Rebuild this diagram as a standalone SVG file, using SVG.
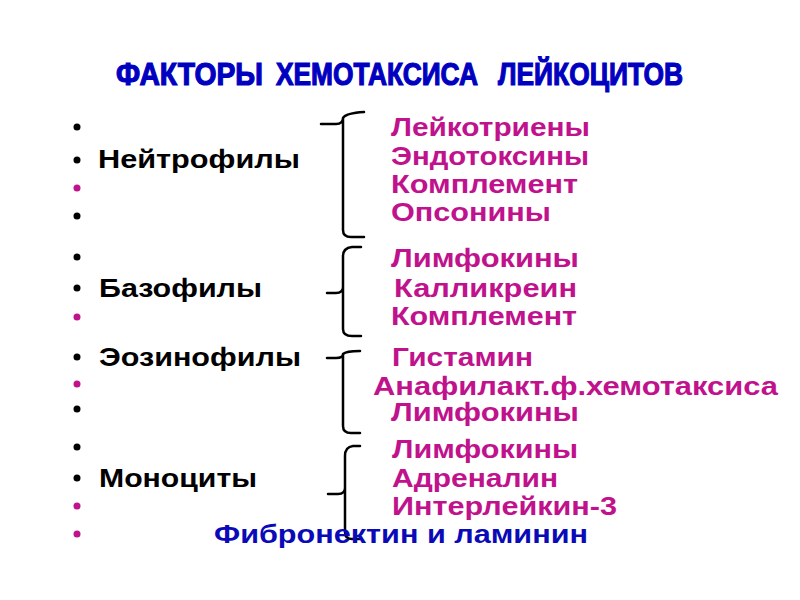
<svg xmlns="http://www.w3.org/2000/svg" width="800" height="600" viewBox="0 0 800 600">
<style>
.t{font-family:"Liberation Sans",Arial,sans-serif;font-weight:bold;font-size:25.5px}
.k{fill:#000}
.m{fill:#c0128c}
.b{fill:#0a0ab8}
.ttl{font-family:"Liberation Sans",Arial,sans-serif;font-weight:bold;font-size:32px;fill:#0000c0;stroke:#0000c0;stroke-width:1.2}
.br{fill:none;stroke:#000;stroke-width:2.5;stroke-linecap:round;stroke-linejoin:round}
</style>
<rect width="800" height="600" fill="#fff"/>
<g id="title">
<text class="ttl" transform="scale(0.8,1)" x="145" y="85" textLength="183.75" lengthAdjust="spacingAndGlyphs">ФАКТОРЫ</text>
<text class="ttl" transform="scale(0.8,1)" x="345" y="85" textLength="252.5" lengthAdjust="spacingAndGlyphs">ХЕМОТАКСИСА</text>
<text class="ttl" transform="scale(0.8,1)" x="622.5" y="85" textLength="231.25" lengthAdjust="spacingAndGlyphs">ЛЕЙКОЦИТОВ</text>
</g>
<g id="bullets">
<circle cx="77" cy="127" r="3.5" class="k"/>
<circle cx="77" cy="160" r="3.5" class="k"/>
<circle cx="77" cy="188" r="3.5" class="m"/>
<circle cx="77" cy="216" r="3.5" class="k"/>
<circle cx="77" cy="257" r="3.5" class="k"/>
<circle cx="77" cy="288" r="3.5" class="k"/>
<circle cx="77" cy="317" r="3.5" class="m"/>
<circle cx="77" cy="357" r="3.5" class="k"/>
<circle cx="77" cy="384" r="3.5" class="m"/>
<circle cx="77" cy="409" r="3.5" class="k"/>
<circle cx="77" cy="447" r="3.5" class="k"/>
<circle cx="77" cy="478" r="3.5" class="k"/>
<circle cx="77" cy="506" r="3.5" class="m"/>
<circle cx="77" cy="534" r="3.5" class="m"/>
</g>
<g id="neutrophils">
<text class="t k" x="98" y="168" textLength="202" lengthAdjust="spacingAndGlyphs">Нейтрофилы</text>
<text class="t m" x="391" y="136" textLength="199" lengthAdjust="spacingAndGlyphs">Лейкотриены</text>
<text class="t m" x="391" y="165" textLength="198" lengthAdjust="spacingAndGlyphs">Эндотоксины</text>
<text class="t m" x="391" y="193" textLength="187" lengthAdjust="spacingAndGlyphs">Комплемент</text>
<text class="t m" x="391" y="221" textLength="160" lengthAdjust="spacingAndGlyphs">Опсонины</text>
</g>
<g id="basophils">
<text class="t k" x="99" y="297" textLength="163" lengthAdjust="spacingAndGlyphs">Базофилы</text>
<text class="t m" x="391" y="267" textLength="188" lengthAdjust="spacingAndGlyphs">Лимфокины</text>
<text class="t m" x="394" y="297" textLength="183" lengthAdjust="spacingAndGlyphs">Калликреин</text>
<text class="t m" x="391" y="325" textLength="186" lengthAdjust="spacingAndGlyphs">Комплемент</text>
</g>
<g id="eosinophils">
<text class="t k" x="99" y="366" textLength="202" lengthAdjust="spacingAndGlyphs">Эозинофилы</text>
<text class="t m" x="392" y="366" textLength="141" lengthAdjust="spacingAndGlyphs">Гистамин</text>
<text class="t m" x="373" y="395" textLength="405" lengthAdjust="spacingAndGlyphs">Анафилакт.ф.хемотаксиса</text>
<text class="t m" x="391" y="421" textLength="188" lengthAdjust="spacingAndGlyphs">Лимфокины</text>
</g>
<g id="monocytes">
<text class="t k" x="99" y="487" textLength="158" lengthAdjust="spacingAndGlyphs">Моноциты</text>
<text class="t m" x="392" y="458" textLength="186" lengthAdjust="spacingAndGlyphs">Лимфокины</text>
<text class="t m" x="392" y="487" textLength="166" lengthAdjust="spacingAndGlyphs">Адреналин</text>
<text class="t m" x="392" y="515" textLength="225" lengthAdjust="spacingAndGlyphs">Интерлейкин-3</text>
</g>
<g id="connectors">
<path class="br" d="M321,124 L336,124 Q343,124 343,118 Q346,113 364,112 M343,118 L343,230 Q343,237 351,237 L364,237"/>
<path class="br" d="M361,247 L352,247 Q343,248 343,256 L343,287 Q343,293 336,293 L327,293 M343,287 Q343,293 343,300 L343,329 Q343,336 352,336 L361,336"/>
<path class="br" d="M327,358 L336,358 Q343,358 343,354 Q346,351 360,351 M343,354 L343,426 Q343,433 351,433 L360,433"/>
<path class="br" d="M360,446 L353,446 Q345,447 345,456 L345,488 Q345,494 338,494 L328,494 M345,488 Q345,494 345,500 L345,532 Q345,539 352,539 L360,539"/>
</g>
<g id="footer">
<text class="t b" x="214" y="543" textLength="374" lengthAdjust="spacingAndGlyphs">Фибронектин и ламинин</text>
</g>
</svg>
